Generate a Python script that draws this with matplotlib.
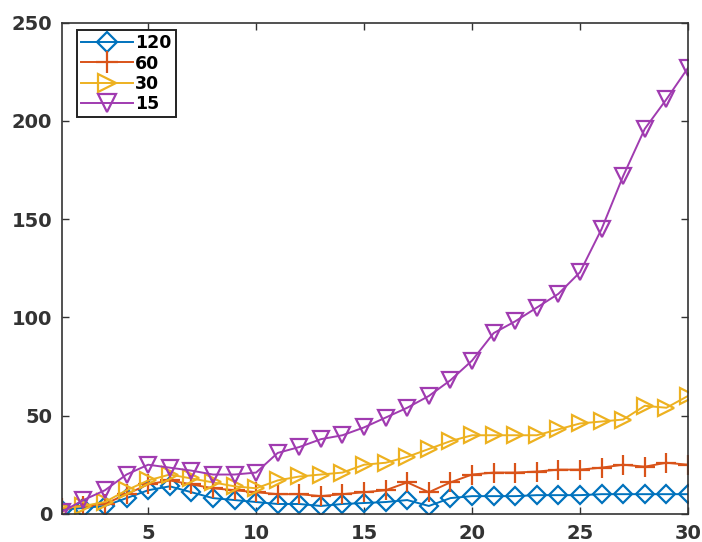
import matplotlib
matplotlib.use('Agg')
import matplotlib.pyplot as plt

x = list(range(1, 31))

s120 = [2, 3, 4, 8, 12, 14, 11, 8, 7, 6, 5, 5, 4, 5, 5.5,
        6, 7, 4, 8, 9, 9, 9, 9.5, 9.5, 9.5, 10, 10, 10, 10, 10]
s60 = [3, 4, 5, 10, 15, 17, 15, 13, 12, 11, 10, 10, 9, 10, 11,
       12, 16, 11, 16, 20, 21, 21, 21.5, 22.5, 22.5, 23.5, 25, 24, 26, 25]
s30 = [3, 4, 6, 12, 17, 20, 18, 16, 14, 13, 17, 19, 20, 21, 25,
       26, 29, 33, 37, 40, 40, 40, 40, 43, 46, 47, 48, 55, 54, 60]
s15 = [1, 7, 12, 20, 25, 23.5, 22, 20, 20, 21, 31, 34, 38, 40, 44,
       49, 54, 60, 68, 78, 92, 98, 105, 112, 123, 145, 172, 196, 211, 227]

labels = ['120', '60', '30', '15']
colors = ['#0072BD', '#D95319', '#EDB120', '#A03BB0']
markers = ['D', '+', '>', 'v']
msizes = [9, 15, 12, 12]

fig = plt.figure(figsize=(7.02, 5.42), dpi=100)
ax = fig.add_axes([0.088, 0.052, 0.892, 0.906])

for ys, lab, c, m, ms in zip([s120, s60, s30, s15], labels, colors, markers, msizes):
    ax.plot(x, ys, color=c, marker=m, markersize=ms, mfc='none', mew=1.6,
            lw=1.4, label=lab)

ax.set_xlim(1, 30)
ax.set_ylim(0, 250)
ax.set_xticks([5, 10, 15, 20, 25, 30])
ax.set_yticks([0, 50, 100, 150, 200, 250])
ax.tick_params(direction='in', top=True, right=True, length=5, width=1,
               labelsize=14, colors='#333333', pad=7)
for t in ax.get_xticklabels() + ax.get_yticklabels():
    t.set_fontweight('bold')
for sp in ax.spines.values():
    sp.set_color('#333333')
    sp.set_linewidth(1.2)

leg = ax.legend(loc='upper left', bbox_to_anchor=(0.024, 0.985), fancybox=False,
                edgecolor='#222222', framealpha=1, handlelength=3.0,
                borderpad=0.25, labelspacing=0.12, handletextpad=0.1,
                borderaxespad=0, markerscale=1.1,
                prop={'weight': 'bold', 'size': 12.5})
leg.get_frame().set_linewidth(1.4)

fig.savefig('out.png', dpi=100)
